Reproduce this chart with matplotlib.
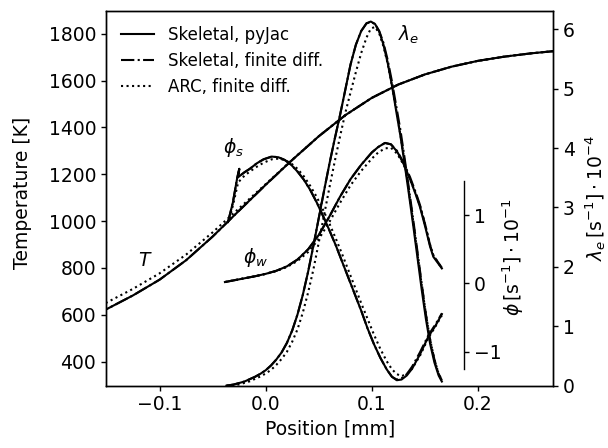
import matplotlib
matplotlib.use("Agg")
import matplotlib.pyplot as plt

plt.rcParams['font.family'] = ['DejaVu Sans']
plt.rcParams['mathtext.fontset'] = 'dejavusans'

# ---------------- data ----------------
# Temperature [K] vs position [mm]
t_x = [-0.16, -0.15, -0.125, -0.1, -0.075, -0.05, -0.025, 0.0, 0.025, 0.05,
       0.075, 0.1, 0.125, 0.15, 0.175, 0.2, 0.225, 0.25, 0.275]
T_pyjac = [601, 624, 683, 750, 833, 934, 1045, 1155, 1261, 1362,
           1452, 1526, 1583, 1626, 1659, 1684, 1702, 1716, 1727]
T_fd = [601, 624, 683, 750, 833, 934, 1045, 1155, 1261, 1362,
        1452, 1526, 1583, 1626, 1659, 1684, 1702, 1716, 1727]
T_arc = [629, 652, 711, 777, 857, 952, 1055, 1158, 1262, 1362,
         1452, 1526, 1583, 1626, 1659, 1684, 1702, 1716, 1727]

# lambda_e [1/s] * 1e-4
lam_x = [-0.037, -0.03, -0.025, -0.02, -0.015, -0.01, -0.005, 0.0, 0.005, 0.01,
         0.015, 0.02, 0.025, 0.03, 0.035, 0.04, 0.045, 0.05, 0.055, 0.06,
         0.065, 0.07, 0.075, 0.08, 0.085, 0.09, 0.095, 0.099, 0.103, 0.107,
         0.111, 0.115, 0.119, 0.123, 0.127, 0.131, 0.135, 0.139, 0.143, 0.147,
         0.151, 0.155, 0.159, 0.163, 0.166]
lam_pyjac = [0.0, 0.02, 0.045, 0.07, 0.11, 0.15, 0.2, 0.26, 0.34, 0.44,
             0.56, 0.72, 0.93, 1.2, 1.53, 1.92, 2.36, 2.82, 3.28, 3.73,
             4.15, 4.55, 4.98, 5.41, 5.74, 5.97, 6.1, 6.13, 6.09, 5.96,
             5.74, 5.43, 5.05, 4.62, 4.2, 3.72, 3.22, 2.7, 2.16, 1.62,
             1.12, 0.7, 0.39, 0.17, 0.07]
lam_fd = [0.0, 0.02, 0.045, 0.07, 0.11, 0.15, 0.2, 0.26, 0.34, 0.44,
          0.56, 0.72, 0.93, 1.2, 1.53, 1.92, 2.36, 2.82, 3.28, 3.73,
          4.15, 4.55, 4.98, 5.41, 5.74, 5.97, 6.1, 6.12, 6.09, 5.97,
          5.77, 5.48, 5.12, 4.71, 4.3, 3.82, 3.32, 2.8, 2.26, 1.72,
          1.2, 0.77, 0.44, 0.2, 0.09]
lam_arc = [0.0, 0.005, 0.022, 0.047, 0.074, 0.115, 0.155, 0.205, 0.265, 0.35,
           0.45, 0.57, 0.74, 0.95, 1.23, 1.57, 1.96, 2.41, 2.87, 3.33,
           3.77, 4.19, 4.59, 4.94, 5.28, 5.6, 5.86, 6.01, 6.04, 5.93,
           5.71, 5.42, 5.05, 4.64, 4.22, 3.76, 3.27, 2.76, 2.22, 1.7,
           1.2, 0.77, 0.44, 0.2, 0.09]

# phi_s [1/s] * 1e-1
phis_x = [-0.0355, -0.031, -0.0268, -0.0249, -0.0258, -0.02, -0.015, -0.0085, -0.002, 0.0057,
          0.012, 0.018, 0.024, 0.03, 0.036, 0.042, 0.048, 0.054, 0.06, 0.066,
          0.072, 0.078, 0.084, 0.09, 0.096, 0.102, 0.108, 0.114, 0.119, 0.1235,
          0.128, 0.133, 0.138, 0.1454, 0.1533, 0.16, 0.166]
phis_pyjac = [0.90, 1.18, 1.55, 1.68, 1.56, 1.63, 1.68, 1.76, 1.82, 1.86,
              1.85, 1.81, 1.74, 1.64, 1.52, 1.37, 1.19, 0.99, 0.78, 0.56,
              0.32, 0.08, -0.16, -0.40, -0.66, -0.89, -1.09, -1.26, -1.37, -1.42,
              -1.41, -1.35, -1.25, -1.04, -0.78, -0.62, -0.45]
phis_fd = [0.90, 1.18, 1.55, 1.68, 1.56, 1.63, 1.68, 1.76, 1.82, 1.86,
           1.85, 1.81, 1.74, 1.64, 1.52, 1.37, 1.19, 0.99, 0.78, 0.56,
           0.32, 0.08, -0.16, -0.40, -0.66, -0.89, -1.09, -1.26, -1.37, -1.41,
           -1.39, -1.33, -1.22, -1.01, -0.76, -0.60, -0.44]
phis_arc_x = [-0.034, -0.030, -0.026, -0.020, -0.015, -0.0085, -0.002, 0.0057, 0.012, 0.018,
              0.024, 0.03, 0.036, 0.042, 0.048, 0.054, 0.06, 0.066, 0.072, 0.078,
              0.084, 0.09, 0.096, 0.102, 0.108, 0.114, 0.119, 0.1235, 0.128, 0.133,
              0.138, 0.1454, 0.1533, 0.16, 0.166]
phis_arc = [0.95, 1.2, 1.48, 1.58, 1.64, 1.71, 1.77, 1.82, 1.83, 1.81,
            1.76, 1.68, 1.57, 1.43, 1.27, 1.08, 0.88, 0.66, 0.43, 0.19,
            -0.05, -0.29, -0.52, -0.75, -0.96, -1.14, -1.26, -1.33, -1.36, -1.33,
            -1.25, -1.06, -0.8, -0.63, -0.47]

# phi_w [1/s] * 1e-1
phiw_x = [-0.0384, -0.03, -0.02, -0.01, 0.0, 0.01, 0.02, 0.03, 0.04, 0.05,
          0.06, 0.07, 0.08, 0.09, 0.1, 0.106, 0.1124, 0.118, 0.124, 0.13,
          0.136, 0.1415, 0.1454, 0.1505, 0.1549, 0.158, 0.166]
phiw_pyjac = [0.02, 0.045, 0.075, 0.105, 0.14, 0.185, 0.25, 0.35, 0.5, 0.71,
              0.98, 1.27, 1.53, 1.74, 1.92, 2.0, 2.06, 2.04, 1.93, 1.75,
              1.53, 1.30, 1.12, 0.82, 0.54, 0.39, 0.22]
phiw_fd = [0.02, 0.045, 0.075, 0.105, 0.14, 0.185, 0.25, 0.35, 0.5, 0.71,
           0.98, 1.27, 1.53, 1.74, 1.92, 2.0, 2.06, 2.04, 1.94, 1.77,
           1.56, 1.33, 1.15, 0.85, 0.56, 0.41, 0.23]
phiw_arc = [0.02, 0.045, 0.075, 0.105, 0.14, 0.18, 0.24, 0.33, 0.46, 0.65,
            0.9, 1.18, 1.44, 1.65, 1.83, 1.92, 1.98, 1.99, 1.9, 1.74,
            1.53, 1.31, 1.14, 0.85, 0.57, 0.41, 0.22]

series_labels = ['Skeletal, pyJac', 'Skeletal, finite diff.', 'ARC, finite diff.']

# ---------------- figure ----------------
FS = 13.5
fig = plt.figure(figsize=(6.08, 4.48), dpi=100)
ax = fig.add_axes([0.1743, 0.1391, 0.7357, 0.8371])
ax2 = ax.twinx()
ax3 = ax.twinx()

lw = 1.5
styles = ['-', '-.', ':']

hT = []
for y, ls, lab in zip([T_pyjac, T_fd, T_arc], styles, series_labels):
    h, = ax.plot(t_x, y, color='k', ls=ls, lw=lw, label=lab)
    hT.append(h)

for y, ls in zip([lam_pyjac, lam_fd, lam_arc], styles):
    ax2.plot(lam_x, y, color='k', ls=ls, lw=lw)

for xx, y, ls in zip([phis_x, phis_x, phis_arc_x], [phis_pyjac, phis_fd, phis_arc], styles):
    ax3.plot(xx, y, color='k', ls=ls, lw=lw)
for y, ls in zip([phiw_pyjac, phiw_fd, phiw_arc], styles):
    ax3.plot(phiw_x, y, color='k', ls=ls, lw=lw)

ax.set_xlim(-0.1505, 0.271)
ax.set_ylim(297.6, 1898.2)
ax2.set_ylim(0, 6.313)
ax3.set_ylim(-1.5, 4.0)

ax.set_xticks([-0.1, 0.0, 0.1, 0.2])
ax.set_xticklabels(['\u22120.1', '0.0', '0.1', '0.2'])
ax.set_yticks([400, 600, 800, 1000, 1200, 1400, 1600, 1800])
ax2.set_yticks([0, 1, 2, 3, 4, 5, 6])
ax3.set_yticks([-1, 0, 1])

for a in (ax, ax2, ax3):
    a.tick_params(labelsize=FS, length=3.5, width=1.0)
    for s in a.spines.values():
        s.set_linewidth(1.0)

for s in ['top', 'left', 'bottom']:
    ax3.spines[s].set_visible(False)
ax3.spines['right'].set_position(('axes', 0.8))
ax3.spines['right'].set_bounds(-1.25, 1.5)

ax.set_xlabel('Position [mm]', fontsize=FS)
ax.set_ylabel('Temperature [K]', fontsize=FS)
ax.yaxis.set_label_coords(-0.166, 0.514)
ax2.set_ylabel(r'$\lambda_e\,[\mathrm{s}^{-1}]\cdot10^{-4}$', fontsize=FS)
ax2.yaxis.set_label_coords(1.066, 0.5)
ax3.set_ylabel(r'$\phi\,[\mathrm{s}^{-1}]\cdot10^{-1}$', fontsize=FS)
ax3.yaxis.set_label_coords(0.883, 0.342)

ax.text(-0.1138, 834, '$T$', fontsize=FS, ha='center', va='center')
ax.text(-0.0302, 1316, r'$\phi_s$', fontsize=FS, ha='center', va='center')
ax.text(-0.0091, 843, r'$\phi_w$', fontsize=FS, ha='center', va='center')
ax.text(0.1344, 1794, r'$\lambda_e$', fontsize=FS, ha='center', va='center')

ax3.legend(hT, series_labels, loc='upper left', frameon=False, fontsize=12)

fig.savefig('out.png', dpi=100)
